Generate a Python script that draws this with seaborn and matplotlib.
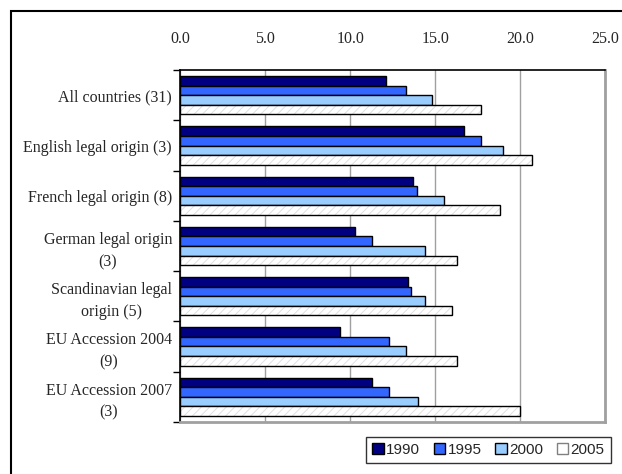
import matplotlib
matplotlib.use('Agg')
import matplotlib.pyplot as plt
from matplotlib.patches import Rectangle
import seaborn as sns
import pandas as pd

groups = ['All countries (31)', 'English legal origin (3)', 'French legal origin (8)',
          'German legal origin\n(3)', 'Scandinavian legal\norigin (5)',
          'EU Accession 2004\n(9)', 'EU Accession 2007\n(3)']
years = ['1990', '1995', '2000', '2005']
v1990 = [12.1, 16.7, 13.7, 10.3, 13.4, 9.4, 11.3]
v1995 = [13.3, 17.7, 13.9, 11.3, 13.6, 12.3, 12.3]
v2000 = [14.8, 19.0, 15.5, 14.4, 14.4, 13.3, 14.0]
v2005 = [17.7, 20.7, 18.8, 16.3, 16.0, 16.3, 20.0]
colors = ['#000080', '#3366FF', '#99CCFF', '#FFFFFF']

# long form table for seaborn
rows = []
for year, vals in zip(years, [v1990, v1995, v2000, v2005]):
    for g, v in zip(groups, vals):
        rows.append({'Group': g, 'Year': year, 'Value': v})
data = pd.DataFrame(rows)

sns.set_style('white')
plt.rcParams['font.family'] = ['Liberation Serif', 'DejaVu Serif']
plt.rcParams['hatch.linewidth'] = 0.7

fig = plt.figure(figsize=(6.22, 4.74), dpi=100)
ax = fig.add_axes([0.290, 0.110, 0.683, 0.742])

sns.barplot(data=data, y='Group', x='Value', hue='Year', order=groups, hue_order=years,
            palette=colors, saturation=1, orient='h', width=0.76, edgecolor='black',
            linewidth=1.0, ax=ax, legend=True)

# 2005 bars: white with light grey hatching, black outline
for bar in ax.containers[3]:
    bar.set_edgecolor('#e0e0e0')
    bar.set_hatch('////')
    bar.set_linewidth(0)
    ax.add_patch(Rectangle(bar.get_xy(), bar.get_width(), bar.get_height(),
                           fill=False, edgecolor='black', linewidth=1.0, zorder=3))

ax.set_xlim(0, 25)
ax.set_ylim(6.5, -0.5)
ax.xaxis.tick_top()
ax.set_xticks([0, 5, 10, 15, 20, 25])
ax.set_xticklabels(['0.0', '5.0', '10.0', '15.0', '20.0', '25.0'], fontsize=11.5)
ax.tick_params(axis='x', length=0, pad=17)
ax.set_yticks(range(len(groups)))
ax.set_yticklabels(groups, fontsize=11.5, ha='right', multialignment='center', linespacing=1.5)
ax.tick_params(axis='y', which='major', length=0, pad=6)
ax.set_yticks([i - 0.5 for i in range(len(groups) + 1)], minor=True)
ax.tick_params(axis='y', which='minor', length=5, width=1, color='black', left=True)
ax.set_xlabel('')
ax.set_ylabel('')
ax.grid(axis='x', color='#a0a0a0', linewidth=1)
ax.set_axisbelow(True)

ax.spines['top'].set_color('black')
ax.spines['top'].set_linewidth(1.2)
ax.spines['left'].set_color('black')
ax.spines['left'].set_linewidth(1.2)
ax.spines['right'].set_color('#a0a0a0')
ax.spines['right'].set_linewidth(2)
ax.spines['bottom'].set_color('#a0a0a0')
ax.spines['bottom'].set_linewidth(2)

handles, labels = ax.get_legend_handles_labels()
for h in handles[3:]:
    h.set_hatch('')
    h.set_edgecolor('#808080')
    h.set_linewidth(1)
ax.legend(handles, labels, ncol=4, loc='center', bbox_to_anchor=(0.7855, 0.0505),
          bbox_transform=fig.transFigure, frameon=True, fancybox=False, edgecolor='black',
          handlelength=0.75, handleheight=0.75, handletextpad=0.15, columnspacing=0.9,
          borderpad=0.4, prop={'family': 'Liberation Sans', 'size': 11})
ax.get_legend().get_frame().set_linewidth(1.0)

# outer chart frame
fig.patches.append(Rectangle((11 / 622, -0.05), 1.1, 1 - 11 / 474 + 0.05, transform=fig.transFigure,
                             fill=False, edgecolor='black', linewidth=1.5))

fig.savefig('out.png', dpi=100)
